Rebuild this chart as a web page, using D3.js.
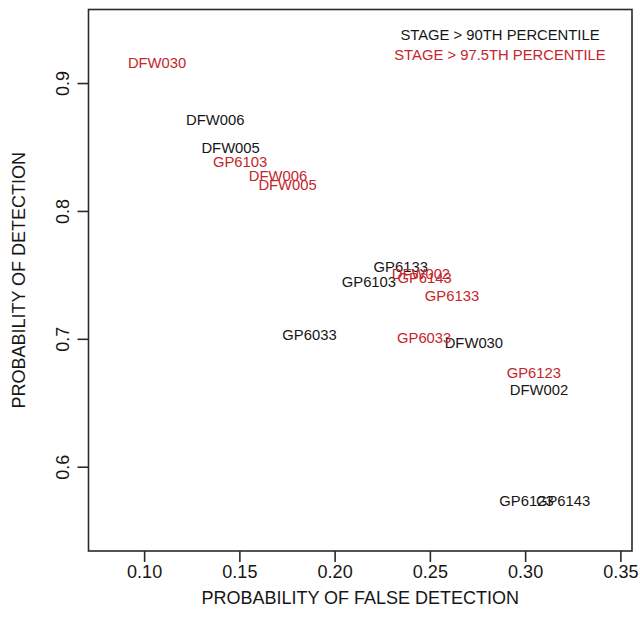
<!DOCTYPE html>
<html>
<head>
<meta charset="utf-8">
<script src="https://cdn.jsdelivr.net/npm/d3@7"></script>
<style>
  html, body { margin: 0; padding: 0; background: #fff; }
  svg { display: block; }
  text { font-family: "Liberation Sans", Arial, Helvetica, sans-serif; }
</style>
</head>
<body>
<svg id="chart" width="640" height="625"></svg>
<script>
// Gauges exceeding the 90th-percentile stage threshold
const blackNames = ["DFW006", "DFW005", "GP6133", "GP6103", "GP6033", "DFW030", "DFW002", "GP6123", "GP6143"];
const blackPOFD  = [0.1373, 0.1454, 0.2347, 0.2180, 0.1868, 0.2731, 0.3073, 0.3007, 0.3199];
const blackPOD   = [0.8713, 0.8489, 0.7565, 0.7448, 0.7027, 0.6966, 0.6597, 0.5734, 0.5734];

// Gauges exceeding the 97.5th-percentile stage threshold
const redNames = ["DFW030", "GP6103", "DFW006", "DFW005", "DFW002", "GP6143", "GP6133", "GP6033", "GP6123"];
const redPOFD  = [0.1068, 0.1504, 0.1703, 0.1753, 0.2453, 0.2472, 0.2616, 0.2470, 0.3046];
const redPOD   = [0.9158, 0.8379, 0.8277, 0.8204, 0.7506, 0.7475, 0.7335, 0.7003, 0.6732];

const xTicks = [0.10, 0.15, 0.20, 0.25, 0.30, 0.35];
const yTicks = [0.6, 0.7, 0.8, 0.9];

const legendLabels = ["STAGE > 90TH PERCENTILE", "STAGE > 97.5TH PERCENTILE"];
const xTitle = "PROBABILITY OF FALSE DETECTION";
const yTitle = "PROBABILITY OF DETECTION";

const BLACK = "#161616";
const RED = "#c4262b";
const FS = 14.8;      // point labels and legend
const AXIS_FS = 18;   // tick labels and axis titles

const svg = d3.select("#chart");
const plot = { left: 88.5, right: 632, top: 9.5, bottom: 551 };

const x = d3.scaleLinear().domain([0.0708, 0.3561]).range([plot.left, plot.right]);
const y = d3.scaleLinear().domain([0.5341, 0.9575]).range([plot.bottom, plot.top]);

// Plot frame
svg.append("rect")
  .attr("x", plot.left).attr("y", plot.top)
  .attr("width", plot.right - plot.left).attr("height", plot.bottom - plot.top)
  .attr("fill", "none").attr("stroke", "#2a2a2a").attr("stroke-width", 1.6);

// Bottom axis
const xAxis = svg.append("g")
  .attr("transform", `translate(0,${plot.bottom})`)
  .call(d3.axisBottom(x).tickValues(xTicks).tickFormat(d3.format(".2f")).tickSize(11));
xAxis.select(".domain").remove();
xAxis.selectAll(".tick line").attr("stroke", "#2a2a2a").attr("stroke-width", 1.6);
xAxis.selectAll(".tick text")
  .attr("font-size", AXIS_FS).attr("fill", BLACK)
  .attr("font-family", "Liberation Sans, Arial, sans-serif")
  .attr("y", 21).attr("dy", "0.35em");

// Left axis with labels parallel to the axis
const yAxis = svg.append("g")
  .attr("transform", `translate(${plot.left},0)`)
  .call(d3.axisLeft(y).tickValues(yTicks).tickFormat(d3.format(".1f")).tickSize(11).tickPadding(0));
yAxis.select(".domain").remove();
yAxis.selectAll(".tick line").attr("stroke", "#2a2a2a").attr("stroke-width", 1.6);
yAxis.selectAll(".tick text")
  .attr("font-size", AXIS_FS).attr("fill", BLACK)
  .attr("font-family", "Liberation Sans, Arial, sans-serif")
  .attr("x", null).attr("dy", null)
  .attr("text-anchor", "middle")
  .attr("dominant-baseline", "central")
  .attr("transform", "translate(-26,0) rotate(-90)");

// Axis titles
svg.append("text")
  .attr("x", (plot.left + plot.right) / 2).attr("y", 598)
  .attr("text-anchor", "middle").attr("dominant-baseline", "central")
  .attr("font-size", AXIS_FS).attr("fill", BLACK)
  .text(xTitle);
svg.append("text")
  .attr("transform", `translate(19,${(plot.top + plot.bottom) / 2}) rotate(-90)`)
  .attr("text-anchor", "middle").attr("dominant-baseline", "central")
  .attr("font-size", AXIS_FS).attr("fill", BLACK)
  .text(yTitle);

// Point labels drawn at each gauge's (POFD, POD)
function drawLabels(names, xs, ys, color) {
  svg.append("g").selectAll("text")
    .data(names.map((n, i) => ({ n, px: xs[i], py: ys[i] })))
    .join("text")
    .attr("x", d => x(d.px)).attr("y", d => y(d.py))
    .attr("text-anchor", "middle").attr("dominant-baseline", "central")
    .attr("font-size", FS).attr("fill", color)
    .text(d => d.n);
}
drawLabels(blackNames, blackPOFD, blackPOD, BLACK);
drawLabels(redNames, redPOFD, redPOD, RED);

// Legend
svg.append("g").selectAll("text")
  .data(legendLabels)
  .join("text")
  .attr("x", 500).attr("y", (d, i) => 34.5 + i * 20)
  .attr("text-anchor", "middle").attr("dominant-baseline", "central")
  .attr("font-size", FS).attr("fill", (d, i) => i === 0 ? BLACK : RED)
  .text(d => d);
</script>
</body>
</html>
